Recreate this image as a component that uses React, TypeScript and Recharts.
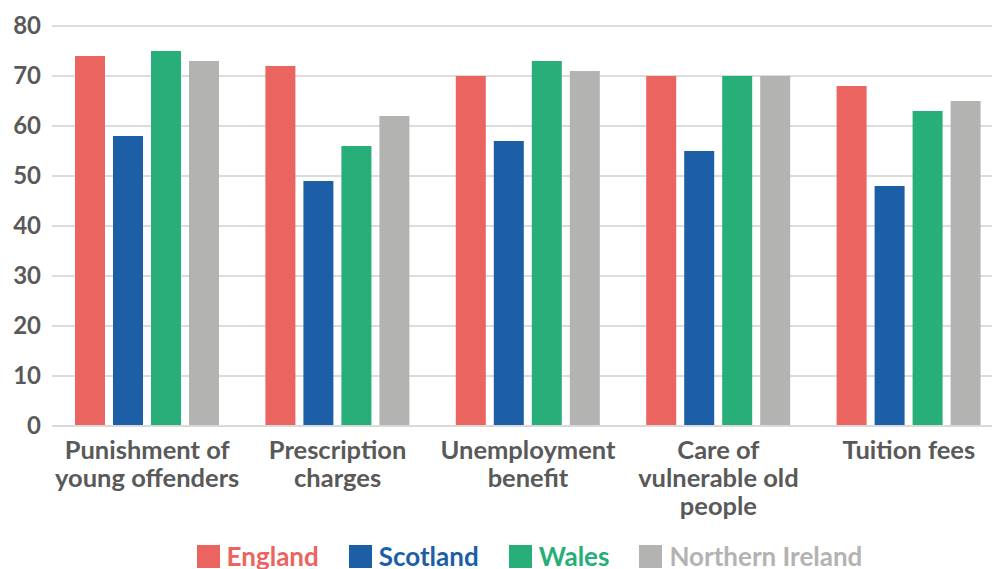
import type { FC } from 'react';
import { Bar, BarChart, CartesianGrid, Legend, XAxis, YAxis } from 'recharts';

const categories = [
  'Punishment of\nyoung offenders',
  'Prescription\ncharges',
  'Unemployment\nbenefit',
  'Care of\nvulnerable old\npeople',
  'Tuition fees',
];
const england = [74, 72, 70, 70, 68];
const scotland = [58, 49, 57, 55, 48];
const wales = [75, 56, 73, 70, 63];
const northernIreland = [73, 62, 71, 70, 65];
const yTicks = [0, 10, 20, 30, 40, 50, 60, 70, 80];

const series = [
  { key: 'england', name: 'England', color: '#EB6560' },
  { key: 'scotland', name: 'Scotland', color: '#1C5FA6' },
  { key: 'wales', name: 'Wales', color: '#27AE79' },
  { key: 'ni', name: 'Northern Ireland', color: '#B3B3B2' },
];

const data = categories.map((c, i) => ({
  category: c,
  england: england[i],
  scotland: scotland[i],
  wales: wales[i],
  ni: northernIreland[i],
}));

const FONT = 'Lato, "Open Sans", sans-serif';
const TEXT = '#595959';

const XTick: FC<any> = ({ x, y, payload }) => {
  const lines = String(payload.value).split('\n');
  return (
    <text x={x} y={y} textAnchor='middle' fill={TEXT} fontSize={25.5} fontWeight={700} fontFamily={FONT}>
      {lines.map((l, i) => (
        <tspan key={i} x={x} dy={i === 0 ? 25 : 28}>
          {l}
        </tspan>
      ))}
    </text>
  );
};

const YTick: FC<any> = ({ y, payload }) => (
  <text x={41} y={y} dy={8} textAnchor='end' fill={TEXT} fontSize={24} fontWeight={700} fontFamily={FONT}>
    {payload.value}
  </text>
);

const LegendContent: FC = () => (
  <div
    style={{
      display: 'flex',
      justifyContent: 'center',
      alignItems: 'center',
      height: 26,
      paddingLeft: 55,
      fontFamily: FONT,
      fontSize: 26,
      fontWeight: 700,
    }}
  >
    {series.map((s) => (
      <div key={s.key} style={{ display: 'flex', alignItems: 'center', margin: '0 15px' }}>
        <span style={{ width: 23, height: 23, background: s.color, marginRight: 7, display: 'inline-block' }} />
        <span style={{ color: s.color }}>{s.name}</span>
      </div>
    ))}
  </div>
);

const App: FC = () => (
  <div style={{ position: 'absolute', left: 0, top: 0, width: 992, height: 569, overflow: 'hidden', background: '#fff' }}>
    <BarChart
      width={1004}
      height={569}
      data={data}
      margin={{ top: 26, right: 0, left: 0, bottom: 0 }}
      barSize={30}
      barGap={8}
    >
      <CartesianGrid stroke='#DCDCDC' strokeWidth={2} vertical={false} />
      <XAxis
        dataKey='category'
        interval={0}
        tickLine={false}
        axisLine={{ stroke: '#D9D9D9', strokeWidth: 2 }}
        height={117}
        tick={<XTick />}
      />
      <YAxis
        width={52}
        domain={[0, 80]}
        ticks={yTicks}
        tickLine={false}
        axisLine={false}
        tick={<YTick />}
      />
      <Legend verticalAlign='bottom' content={<LegendContent />} />
      {series.map((s) => (
        <Bar key={s.key} dataKey={s.key} name={s.name} fill={s.color} isAnimationActive={false} />
      ))}
    </BarChart>
  </div>
);

export default App;
